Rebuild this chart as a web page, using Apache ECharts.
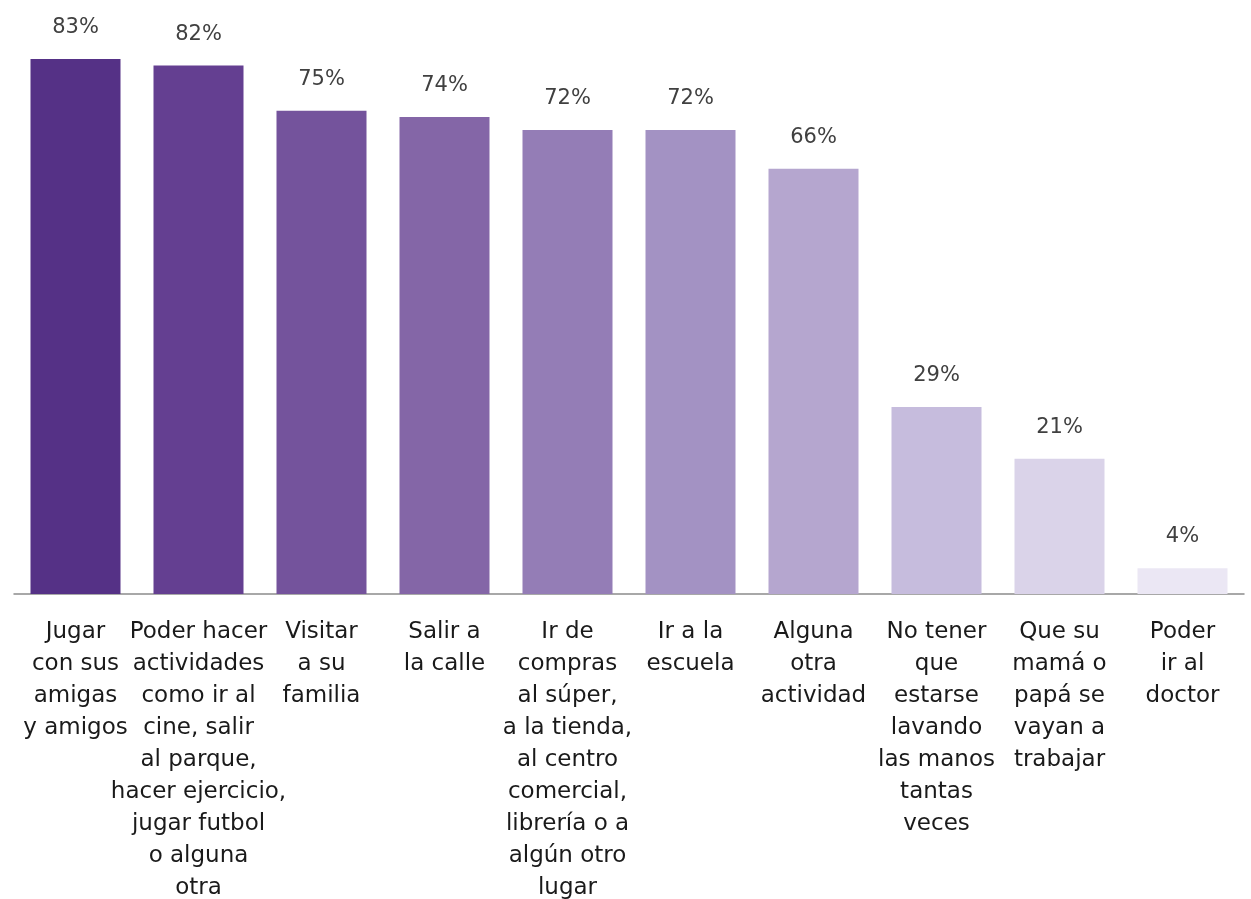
<!DOCTYPE html>
<html>
<head>
<meta charset="utf-8">
<script src="https://cdn.jsdelivr.net/npm/echarts@6/dist/echarts.min.js"></script>
<style>
html,body{margin:0;padding:0;background:#fff;}
#chart{width:1251px;height:899px;}
</style>
</head>
<body>
<div id="chart"></div>
<script>
const categories = [
  "Jugar\ncon sus\namigas\ny amigos",
  "Poder hacer\nactividades\ncomo ir al\ncine, salir\nal parque,\nhacer ejercicio,\njugar futbol\no alguna\notra",
  "Visitar\na su\nfamilia",
  "Salir a\nla calle",
  "Ir de\ncompras\nal súper,\na la tienda,\nal centro\ncomercial,\nlibrería o a\nalgún otro\nlugar",
  "Ir a la\nescuela",
  "Alguna\notra\nactividad",
  "No tener\nque\nestarse\nlavando\nlas manos\ntantas\nveces",
  "Que su\nmamá o\npapá se\nvayan a\ntrabajar",
  "Poder\nir al\ndoctor"
];
const values = [83, 82, 75, 74, 72, 72, 66, 29, 21, 4];
const colors = ["#553186", "#643f91", "#74539c", "#8466a7", "#947db6", "#a392c3", "#b5a6cf", "#c6bcdd", "#dad3e9", "#ebe7f4"];

const FONT = "'DejaVu Sans', sans-serif";
const chart = echarts.init(document.getElementById('chart'), null, {renderer: 'canvas'});
chart.setOption({
  backgroundColor: '#ffffff',
  animation: false,
  grid: {left: 14, width: 1230, top: 14, bottom: 305, containLabel: false, outerBoundsMode: 'none'},
  xAxis: {
    type: 'category',
    data: categories,
    axisLine: {show: true, lineStyle: {color: '#8c8c8c', width: 1.5}},
    axisTick: {show: false},
    axisLabel: {
      interval: 0,
      margin: 22,
      fontSize: 23,
      lineHeight: 32,
      color: '#1a1a1a',
      fontFamily: FONT,
      align: 'center'
    }
  },
  yAxis: {
    type: 'value',
    min: 0,
    max: 90,
    show: false,
    splitLine: {show: false}
  },
  series: [{
    type: 'bar',
    barWidth: 90,
    data: values.map((v, i) => ({value: v, itemStyle: {color: colors[i]}})),
    label: {
      show: true,
      position: 'top',
      distance: 21,
      formatter: '{c}%',
      fontSize: 21,
      color: '#404040',
      fontFamily: FONT
    }
  }]
});
</script>
</body>
</html>
